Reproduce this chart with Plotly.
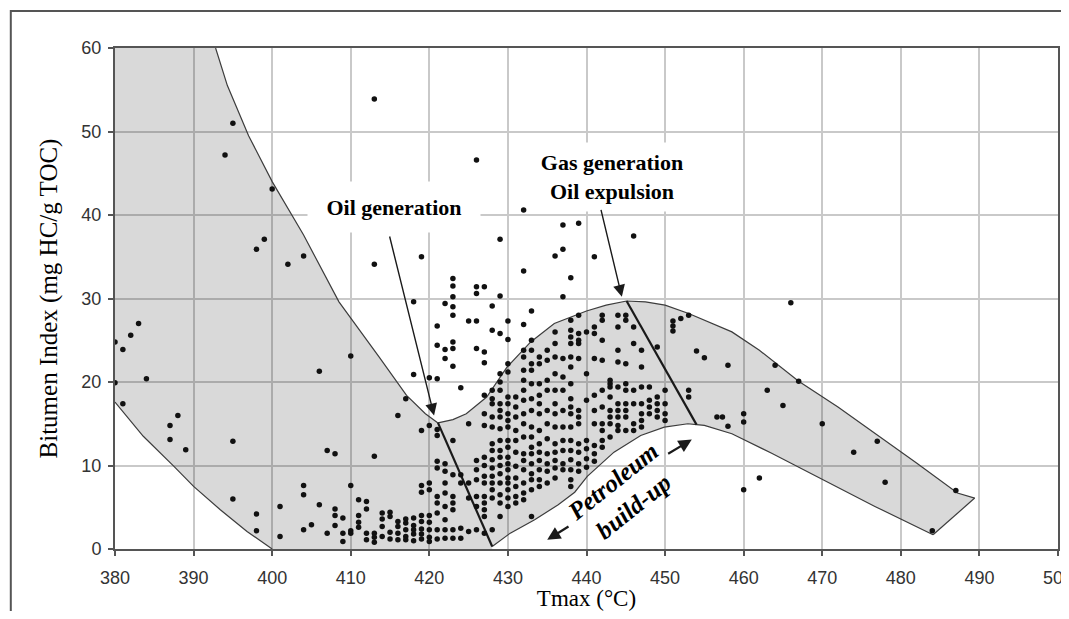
import plotly.graph_objects as go

# ---------------- data ----------------
# boundary curves of the maturation envelope
ul_tmax = [392.8, 394.3, 397.0, 400.0, 404.0, 408.5, 413.6, 417.1, 419.5, 421.1]
ul_bi = [60.0, 55.5, 49.5, 44.0, 37.6, 29.6, 23.0, 18.4, 16.2, 15.1]
ll_tmax = [380.0, 383.6, 387.5, 390.0, 393.4, 396.8, 400.0]
ll_bi = [17.6, 13.5, 9.9, 7.5, 4.7, 2.1, 0.0]
mu_tmax = [421.1, 423.0, 424.7, 427.3, 429.9, 432.9, 435.9, 438.1, 440.0, 442.5, 445.1,
           447.5, 450.0, 453.0, 455.5, 458.5, 462.0, 467.0, 472.0, 476.7, 482.0, 487.2, 489.4]
mu_bi = [15.1, 15.5, 16.2, 18.2, 21.8, 24.8, 27.0, 27.8, 28.5, 29.2, 29.7,
         29.6, 29.2, 28.2, 27.2, 26.0, 23.8, 20.1, 17.0, 13.9, 10.3, 6.7, 6.1]
lo_tmax = [428.0, 430.3, 433.4, 436.4, 438.5, 440.1, 443.5, 446.9, 449.9, 452.9, 454.0,
           455.0, 458.5, 463.5, 470.1, 476.7, 484.1]
lo_bi = [0.3, 1.9, 3.5, 5.3, 6.8, 8.7, 11.6, 13.6, 14.6, 15.0, 14.9,
         14.8, 13.8, 11.5, 8.3, 5.1, 1.7]
MU_PEAK = 10   # index of the gas-generation peak in mu_*
LO_KNEE = 10   # index of the expulsion knee in lo_*

# sample points: scattered ones as (Tmax, BI) pairs
left_tmax = [380, 380, 381, 382, 383, 384, 381, 387, 387, 388, 389, 395, 395, 398, 398, 401, 401,
             410, 410, 406, 407, 408, 404, 404, 404, 405, 406, 407, 413, 416, 419, 420, 419, 419,
             395, 394, 400, 398, 399, 402, 404, 421, 421, 425]
left_bi = [24.8, 19.9, 23.9, 25.6, 27.0, 20.4, 17.4, 14.8, 13.1, 16.0, 11.9, 12.9, 6.0, 4.2, 2.2, 5.1, 1.5,
           23.1, 7.6, 21.3, 11.8, 11.4, 7.6, 6.5, 2.3, 2.9, 5.3, 1.9, 11.1, 16.0, 14.2, 14.8, 7.6, 6.8,
           51.0, 47.2, 43.1, 35.9, 37.1, 34.1, 35.1, 14.3, 13.6, 15.0]
upper_tmax = [426, 413, 413, 419, 429, 432, 432, 437, 439, 437, 436, 438, 437, 441, 446, 433, 432,
              418, 422, 423, 423, 423, 423, 423, 426, 426, 427, 429, 428, 425, 426, 430, 421, 428,
              429, 430, 423, 423, 422, 421, 426, 427, 427, 422, 423, 418, 420, 421, 424, 417]
upper_bi = [46.6, 53.9, 34.1, 35.0, 37.1, 33.3, 40.6, 38.8, 39.0, 35.9, 35.1, 32.5, 30.2, 35.0, 37.5, 28.5, 26.9,
            29.6, 29.4, 32.4, 31.5, 30.2, 29.0, 28.0, 31.4, 30.6, 31.4, 30.3, 29.1, 27.3, 27.3, 27.3, 26.7, 26.2,
            25.8, 25.1, 24.8, 24.0, 23.9, 24.4, 24.0, 23.6, 22.3, 22.8, 21.9, 20.9, 20.5, 20.4, 19.3, 18.0]
right_tmax = [454, 455, 458, 464, 467, 463, 465, 456.6, 457.3, 460, 460, 458, 470, 477, 474, 478,
              487, 484, 462, 460, 466]
right_bi = [23.7, 22.9, 22.0, 22.0, 20.1, 19.0, 17.2, 15.8, 15.8, 16.2, 15.2, 14.7, 15.0, 12.9, 11.6, 8.0,
            7.0, 2.2, 8.5, 7.1, 29.5]

# dense part: one list of BI values per Tmax column
col_tmax = list(range(408, 454))
col_bi = [
    [4.8, 4.0, 2.8],                                    # 408
    [3.7, 1.9, 0.9],                                    # 409
    [2.2, 1.9],                                         # 410
    [5.9, 4.0, 3.2, 2.6],                               # 411
    [5.7, 4.8, 1.9, 1.1],                               # 412
    [1.9, 0.8, 1.4],                                    # 413
    [4.3, 3.6, 2.7, 1.5],                               # 414
    [3.9, 2.0, 1.2, 4.4],                               # 415
    [2.7, 1.9, 1.1, 3.3],                               # 416
    [3.1, 2.3, 1.5, 1.1, 3.6],                          # 417
    [3.7, 2.8, 1.8, 1.0, 2.3],                          # 418
    [4.0, 3.3, 2.4, 1.8, 1.2],                          # 419
    [7.9, 7.1, 4.0, 3.2, 2.3, 1.4, 0.9],                # 420
    [10.5, 9.7, 6.3, 5.5, 4.3, 2.3, 1.2],               # 421
    [10.2, 9.3, 7.9, 6.7, 5.1, 3.5, 2.3, 1.3],          # 422
    [13.0, 8.9, 6.3, 5.5, 4.7, 2.3, 1.3],               # 423
    [8.9, 7.9, 2.5, 1.3],                               # 424
    [7.9, 6.1, 2.1],                                    # 425
    [10.6, 9.5, 8.3, 6.3, 5.1, 2.3],                    # 426
    [18.4, 16.2, 14.8, 11.0, 10.0, 8.7, 7.9, 6.3, 5.5, 4.7, 3.9, 1.9],             # 427
    [19.0, 18.0, 17.4, 15.8, 14.6, 12.6, 11.8, 10.7, 9.7, 8.7, 7.9, 7.1, 6.1, 2.3],  # 428
    [21.0, 20.0, 19.0, 17.4, 16.6, 15.8, 14.4, 13.0, 11.8, 11.0, 10.0, 9.0, 7.9, 6.5, 5.5, 3.9],  # 429
    [22.2, 21.2, 18.2, 17.4, 16.2, 15.4, 14.6, 13.0, 12.2, 11.0, 10.2, 9.5, 8.5, 7.9, 7.1, 6.1, 5.1],  # 430
    [18.2, 17.0, 15.8, 14.2, 13.0, 11.6, 9.9, 8.5, 7.5, 6.3, 5.5],                 # 431
    [23.8, 23.0, 21.4, 20.2, 19.0, 17.8, 16.2, 15.0, 13.4, 11.4, 10.6, 9.5, 7.9, 6.7, 5.9],  # 432
    [25.0, 23.8, 22.2, 21.4, 19.8, 18.0, 16.6, 14.6, 13.4, 12.2, 11.4, 10.2, 9.0, 8.3, 7.1, 3.9],  # 433
    [23.0, 22.2, 19.8, 18.4, 17.4, 16.2, 14.2, 12.6, 11.6, 10.6, 9.5, 8.3, 7.5],   # 434
    [23.8, 22.6, 20.2, 19.0, 16.6, 15.0, 13.2, 11.4, 10.2, 9.3, 7.9],             # 435
    [26.0, 24.6, 23.0, 21.0, 19.0, 17.4, 16.2, 14.6, 12.6, 11.6, 10.6, 9.7, 8.5],  # 436
    [22.8, 20.6, 19.0, 16.6, 14.6, 13.0, 11.8, 10.2, 9.5],                        # 437
    [27.4, 26.2, 25.4, 24.6, 23.0, 21.8, 19.8, 18.0, 17.0, 16.2, 14.6, 13.0, 11.8, 10.7, 9.5, 8.3, 7.5],  # 438
    [28.0, 25.8, 25.0, 24.6, 22.8, 16.6, 15.8, 15.0, 12.6, 11.6, 10.2, 9.3],     # 439
    [26.0, 21.0, 17.8, 13.0, 12.0, 10.8, 9.8],                                    # 440
    [26.6, 25.8, 22.8, 18.4, 16.6, 15.0, 12.4, 11.4, 10.5],                       # 441
    [28.0, 27.4, 25.0, 22.6, 19.0, 17.0, 15.0, 14.2, 13.0, 12.2],                 # 442
    [20.2, 19.8, 19.4, 18.2, 16.6, 15.8, 15.0, 13.4],                             # 443
    [28.0, 26.6, 23.8, 22.4, 19.4, 17.4, 16.6, 15.8, 14.8, 14.2],                 # 444
    [28.0, 27.4, 22.2, 19.8, 19.0, 17.4, 16.6, 15.8, 14.2],                       # 445
    [26.6, 24.6, 19.0, 17.4, 15.0, 14.2],                                         # 446
    [23.8, 21.8, 19.4, 17.4, 16.2, 15.4, 14.6],                                   # 447
    [19.4, 17.8, 17.0, 16.2],                                                     # 448
    [24.2, 18.2, 17.4, 16.6, 15.8],                                               # 449
    [19.0, 17.4, 16.2, 15.4],                                                     # 450
    [27.3, 26.7, 26.1],                                                           # 451
    [27.6],                                                                       # 452
    [28.0, 19.0, 18.2],                                                           # 453
]

# ---------------- figure ----------------
# the page body has an 8 px margin; keep the figure inside the window
W, H = 1061, 603
ML, MR, MT, MB = 106.7, 11.3, 40, 61.7
FILL = "rgba(0,0,0,0.15)"
EDGE = "#3c3c3c"

fig = go.Figure()

# shaded regions
reg_a_x = [380] + ul_tmax + [lo_tmax[0], lo_tmax[0]] + ll_tmax[::-1] + [380]
reg_a_y = [60] + ul_bi + [lo_bi[0], 0] + ll_bi[::-1] + [60]
reg_b_x = mu_tmax[:MU_PEAK + 1] + lo_tmax[:LO_KNEE + 1][::-1] + [mu_tmax[0]]
reg_b_y = mu_bi[:MU_PEAK + 1] + lo_bi[:LO_KNEE + 1][::-1] + [mu_bi[0]]
reg_c_x = mu_tmax[MU_PEAK:] + lo_tmax[LO_KNEE:][::-1] + [mu_tmax[MU_PEAK]]
reg_c_y = mu_bi[MU_PEAK:] + lo_bi[LO_KNEE:][::-1] + [mu_bi[MU_PEAK]]
for rx, ry in [(reg_a_x, reg_a_y), (reg_b_x, reg_b_y), (reg_c_x, reg_c_y)]:
    fig.add_trace(go.Scatter(x=rx, y=ry, mode="lines", fill="toself", fillcolor=FILL,
                             line=dict(width=0), hoverinfo="skip"))

# outlines
for cx, cy in [(ul_tmax, ul_bi), (ll_tmax, ll_bi), (mu_tmax, mu_bi), (lo_tmax, lo_bi),
               ([mu_tmax[-1], lo_tmax[-1]], [mu_bi[-1], lo_bi[-1]])]:
    fig.add_trace(go.Scatter(x=cx, y=cy, mode="lines", line=dict(color=EDGE, width=1.2),
                             hoverinfo="skip"))
# stage boundaries
for cx, cy in [([ul_tmax[-1], lo_tmax[0]], [ul_bi[-1], lo_bi[0]]),
               ([mu_tmax[MU_PEAK], lo_tmax[LO_KNEE]], [mu_bi[MU_PEAK], lo_bi[LO_KNEE]])]:
    fig.add_trace(go.Scatter(x=cx, y=cy, mode="lines", line=dict(color="#1a1a1a", width=2.2),
                             hoverinfo="skip"))

# samples
pts_x = left_tmax + upper_tmax + right_tmax
pts_y = left_bi + upper_bi + right_bi
for t, vals in zip(col_tmax, col_bi):
    pts_x += [t] * len(vals)
    pts_y += vals
fig.add_trace(go.Scatter(x=pts_x, y=pts_y, mode="markers",
                         marker=dict(size=5.5, color="#111111"), hoverinfo="skip"))

serif = "Liberation Serif, Times New Roman, serif"
sans = "Liberation Sans, Arial, sans-serif"

axis_common = dict(showgrid=True, gridcolor="#c9c9c9", gridwidth=1.5, zeroline=False,
                   showline=True, linecolor="#555555", linewidth=2, mirror=True,
                   ticks="outside", ticklen=5, tickcolor="#555555", tickwidth=1.5,
                   tickfont=dict(family=sans, size=18, color="#333333"), dtick=10,
                   automargin=False, ticklabeloverflow="allow")

fig.update_layout(
    width=W, height=H, margin=dict(l=ML, r=MR, t=MT, b=MB),
    paper_bgcolor="white", plot_bgcolor="white", showlegend=False,
    xaxis=dict(range=[380, 500], **axis_common, ticklabelstandoff=6,
               title=dict(text="Tmax (°C)", font=dict(family=serif, size=23, color="black"),
                          standoff=2)),
    yaxis=dict(range=[0, 60], **axis_common, ticklabelstandoff=3,
               title=dict(text="Bitumen Index (mg HC/g TOC)",
                          font=dict(family=serif, size=25, color="black"), standoff=17)),
)

# outer frame (top-left corner at about (10, 11) on the page)
pw, ph = W - ML - MR, H - MT - MB
fig.add_shape(type="rect", xref="paper", yref="paper",
              x0=(2.5 - ML) / pw, x1=(W + 20 - ML) / pw,
              y0=-(H + 20 - MT - ph) / ph, y1=(H - MB - 3) / ph,
              line=dict(color="#555555", width=2), fillcolor="rgba(0,0,0,0)", layer="above")

bold = dict(family=serif, size=22, color="black")
fig.add_annotation(x=415.5, y=41.0, text="<b>Oil generation</b>", showarrow=False,
                   font=bold, bgcolor="white", width=170, height=48, borderpad=1)
fig.add_annotation(x=443.3, y=44.6, text="<b>Gas generation<br>Oil expulsion</b>", showarrow=False,
                   font=bold, bgcolor="white", width=162, height=66, borderpad=1)
fig.add_annotation(x=444.7, y=6.6, text="<b><i>Petroleum<br>build-up</i></b>", showarrow=False,
                   font=dict(family=serif, size=25, color="black"), textangle=-38.6)

arrow_common = dict(text="", showarrow=True, axref="x", ayref="y", arrowhead=2,
                    arrowcolor="#1a1a1a", standoff=0)
fig.add_annotation(x=420.6, y=16.0, ax=414.9, ay=37.6, arrowsize=1.7, arrowwidth=1.4, **arrow_common)
fig.add_annotation(x=444.5, y=30.2, ax=441.8, ay=40.8, arrowsize=1.7, arrowwidth=1.4, **arrow_common)
fig.add_annotation(x=435.0, y=1.1, ax=437.9, ay=2.8, arrowsize=1.2, arrowwidth=2.2, **arrow_common)
fig.add_annotation(x=453.4, y=13.1, ax=450.2, ay=11.3, arrowsize=1.2, arrowwidth=2.2, **arrow_common)

fig.write_html("out.html")
